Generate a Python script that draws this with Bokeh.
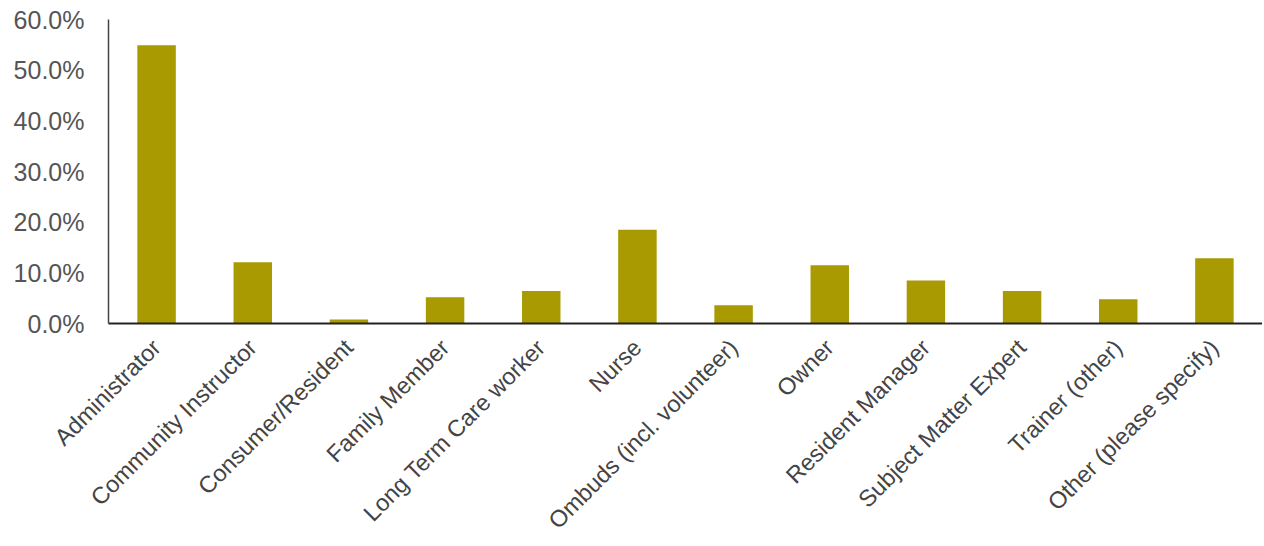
from bokeh.plotting import figure
from bokeh.models import Range1d, FixedTicker, NumeralTickFormatter, ColumnDataSource
from bokeh.embed import file_html
from bokeh.resources import INLINE
import math

categories = ["Administrator", "Community Instructor", "Consumer/Resident", "Family Member",
              "Long Term Care worker", "Nurse", "Ombuds (incl. volunteer)", "Owner",
              "Resident Manager", "Subject Matter Expert", "Trainer (other)", "Other (please specify)"]
values = [0.549, 0.121, 0.008, 0.052, 0.064, 0.185, 0.036, 0.115, 0.085, 0.064, 0.048, 0.129]
y_ticks = [0.0, 0.1, 0.2, 0.3, 0.4, 0.5, 0.6]

src = ColumnDataSource(dict(cat=categories, val=values))

W, H = 1262, 546
p = figure(x_range=categories, y_range=Range1d(0, 0.6), width=W, height=H,
           output_backend="svg", toolbar_location=None)
p.min_border_left = 108
p.min_border_right = 0
p.min_border_top = 19
p.min_border_bottom = H - 323
p.outline_line_color = None
p.grid.visible = False

p.vbar(x="cat", top="val", width=0.4, source=src, color="#A89A00", line_color=None)

font = "Liberation Sans"
p.yaxis.ticker = FixedTicker(ticks=y_ticks)
p.yaxis.formatter = NumeralTickFormatter(format="0.0%")
p.yaxis.major_label_text_font = font
p.yaxis.major_label_text_font_size = "25px"
p.yaxis.major_label_text_color = "#555555"
p.yaxis.major_tick_line_color = None
p.yaxis.minor_tick_line_color = None
p.yaxis.axis_line_color = "#444444"
p.yaxis.axis_line_width = 1.5
p.yaxis.major_label_standoff = 18

p.xaxis.major_label_orientation = math.pi / 4
p.xaxis.major_label_text_font = font
p.xaxis.major_label_text_font_size = "23.5px"
p.xaxis.major_label_text_color = "#444444"
p.xaxis.major_tick_line_color = None
p.xaxis.minor_tick_line_color = None
p.xaxis.axis_line_color = "#222222"
p.xaxis.axis_line_width = 2
p.xaxis.major_label_standoff = 14

open("out.html", "w").write(file_html(p, INLINE))
